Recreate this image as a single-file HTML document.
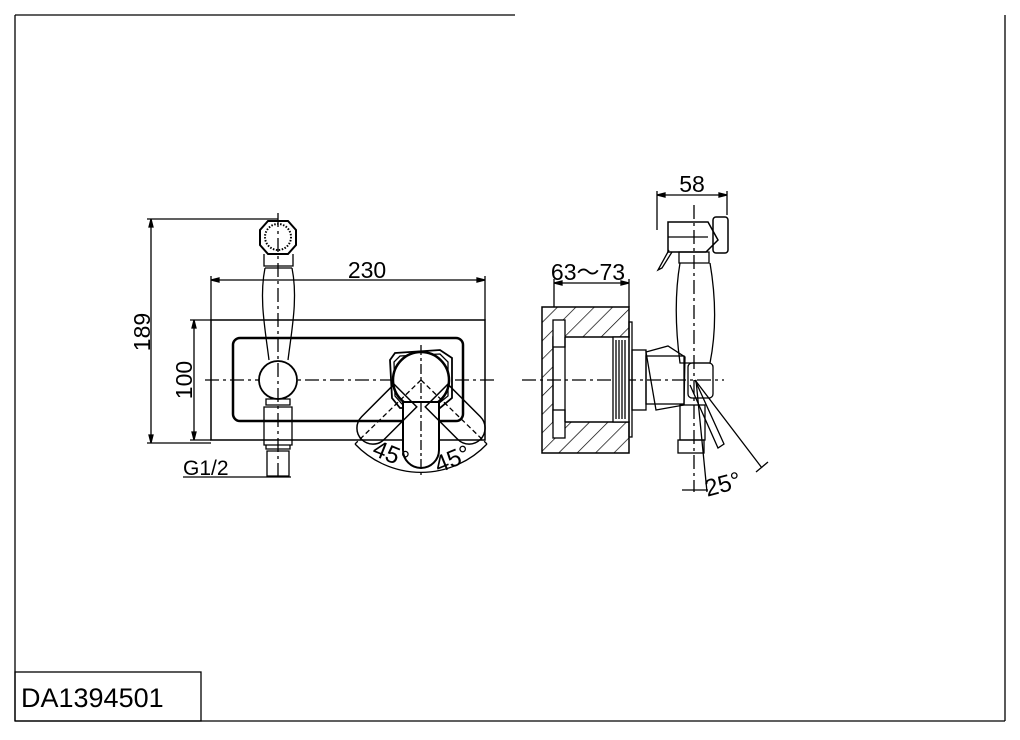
<!DOCTYPE html>
<html><head><meta charset="utf-8"><style>html,body{margin:0;padding:0;background:#fff}svg{display:block}</style></head><body>
<svg width="1020" height="740" viewBox="0 0 1020 740" xmlns="http://www.w3.org/2000/svg" font-family="Liberation Sans, sans-serif" fill="none" stroke="#000" stroke-width="1.3">
<defs>
<pattern id="h" width="13" height="13" patternUnits="userSpaceOnUse" patternTransform="rotate(45)"><line x1="0" y1="0" x2="0" y2="13" stroke="#000" stroke-width="1.4"/></pattern>
</defs>
<!-- frame -->
<line x1="15" y1="15" x2="515" y2="15"/>
<line x1="15" y1="15" x2="15" y2="721"/>
<line x1="15" y1="721" x2="1005" y2="721"/>
<line x1="1005" y1="15" x2="1005" y2="721"/>
<rect x="15" y="672" width="186" height="49"/>
<text x="21" y="707" font-size="27" fill="#000" stroke="none">DA1394501</text>

<!-- LEFT VIEW -->
<rect x="211" y="320" width="274" height="120" stroke-width="1.5"/>
<rect x="233" y="338" width="230" height="83" rx="7" stroke-width="2.5"/>
<line x1="205" y1="380" x2="497" y2="380" stroke-dasharray="14,4,3,4"/>
<!-- dims -->
<line x1="211" y1="280" x2="485" y2="280"/><line x1="211" y1="276" x2="211" y2="320"/><line x1="485" y1="276" x2="485" y2="320"/>
<path d="M211 280 l8 -2 v4z M485 280 l-8 -2 v4z" fill="#000"/>
<text x="367" y="278" font-size="23" text-anchor="middle" fill="#000" stroke="none">230</text>
<line x1="151" y1="219" x2="151" y2="443"/><line x1="147" y1="219" x2="278" y2="219"/><line x1="147" y1="443" x2="211" y2="443"/>
<path d="M151 219 l-2 8 h4z M151 443 l-2 -8 h4z" fill="#000"/>
<text transform="translate(150 332) rotate(-90)" font-size="23" text-anchor="middle" fill="#000" stroke="none">189</text>
<line x1="194" y1="320" x2="194" y2="440"/><line x1="190" y1="320" x2="211" y2="320"/><line x1="190" y1="440" x2="211" y2="440"/>
<path d="M194 320 l-2 8 h4z M194 440 l-2 -8 h4z" fill="#000"/>
<text transform="translate(192 380) rotate(-90)" font-size="23" text-anchor="middle" fill="#000" stroke="none">100</text>
<text x="183" y="475" font-size="21" fill="#000" stroke="none">G1/2</text>
<line x1="183" y1="477" x2="291" y2="477"/>
<!-- hand shower -->
<polygon points="268,221 288,221 296,230 296,245 288,254 268,254 260,245 260,230" stroke-width="2" fill="#fff"/>
<circle cx="278" cy="237" r="13" stroke-dasharray="1.5,1.5" stroke-width="2"/>
<path d="M264 254 v12 h29 v-12"/>
<path d="M265 268 h27 M265 268 c-6 30 0 60 4 92 M292 268 c6 30 0 60 -4 92" />
<circle cx="278" cy="380" r="19" stroke-width="1.8" fill="#fff"/>
<path d="M266 399 h24 v6 h-24z M264 407 h28 v38 h-28z M266 445 h24 v4 h-24z M267 451 h22 v25 h-22z"/>
<line x1="278" y1="213" x2="278" y2="478" stroke-dasharray="14,4,3,4"/>
<!-- lever -->
<path d="M395 353 L440 350 L452 358 L452 398 L440 408 L400 408 L392 398 L390 360 Z" stroke-width="1.8" fill="#fff"/>
<path d="M400 356 L440 354 L448 362 L448 396 L438 404 L402 404 L395 396 L394 362 Z"/>
<circle cx="421" cy="380" r="28" stroke-width="2.5" fill="#fff"/>
<path d="M403 402 h36 v48 a18 18 0 0 1 -36 0z" stroke-width="2" fill="#fff"/>
<g transform="rotate(45 421 380)"><path d="M405 402 h32 v46 a16 16 0 0 1 -32 0z" stroke-width="1.5"/></g>
<g transform="rotate(-45 421 380)"><path d="M405 402 h32 v46 a16 16 0 0 1 -32 0z" stroke-width="1.5"/></g>
<line x1="421" y1="345" x2="421" y2="478" stroke-dasharray="10,3,3,3"/>
<line x1="421" y1="380" x2="355" y2="444" stroke-dasharray="5,3"/>
<line x1="421" y1="380" x2="487" y2="444" stroke-dasharray="5,3"/>
<path d="M355 444 A91 91 0 0 0 487 444"/>
<text x="372" y="460" font-size="24" fill="#000" stroke="none" transform="rotate(22 385 455)">45°</text>
<text x="434" y="466" font-size="24" fill="#000" stroke="none" transform="rotate(-22 455 458)">45°</text>

<!-- RIGHT VIEW -->
<line x1="522" y1="380" x2="724" y2="380" stroke-dasharray="14,4,3,4"/>
<path d="M542 307 H629 V337 H553 V422 H629 V453 H542 Z" fill="url(#h)" stroke-width="1.5"/>
<rect x="553" y="320" width="12" height="27" fill="#fff"/>
<rect x="553" y="410" width="12" height="28" fill="#fff"/>
<line x1="565" y1="337" x2="565" y2="422"/>
<rect x="613" y="337" width="16" height="85" fill="#fff"/>
<line x1="616" y1="340" x2="616" y2="419"/><line x1="619" y1="340" x2="619" y2="419"/><line x1="622" y1="340" x2="622" y2="419"/><line x1="625" y1="340" x2="625" y2="419"/>
<rect x="629" y="322" width="3" height="115"/>
<line x1="554" y1="283" x2="629" y2="283"/><line x1="554" y1="279" x2="554" y2="307"/><line x1="629" y1="279" x2="629" y2="307"/>
<path d="M554 283 l8 -2 v4z M629 283 l-8 -2 v4z" fill="#000"/>
<text x="588" y="280" font-size="23" text-anchor="middle" fill="#000" stroke="none">63～73</text>
<!-- valve -->
<rect x="632" y="350" width="14" height="60"/>
<rect x="646" y="356" width="38" height="48"/>
<path d="M646 352 L668 346 L685 357 L684 405 L656 410 Z"/>
<!-- hand shower side -->
<line x1="657" y1="195" x2="727" y2="195"/><line x1="657" y1="191" x2="657" y2="230"/><line x1="727" y1="191" x2="727" y2="215"/>
<path d="M657 195 l8 -2 v4z M727 195 l-8 -2 v4z" fill="#000"/>
<text x="692" y="192" font-size="23" text-anchor="middle" fill="#000" stroke="none">58</text>
<path d="M668 222 H708 L718 240 L706 252 H668 Z" stroke-width="1.5"/>
<line x1="668" y1="237" x2="708" y2="237"/>
<rect x="713" y="217" width="15" height="36" rx="3" stroke-width="1.5"/>
<path d="M669 250 L658 270 L662 268 L672 252"/>
<path d="M679 252 h30 v11 h-30z"/>
<path d="M680 263 c-6 35 -4 70 0 100 h30 c6 -30 6 -65 0 -100"/>
<rect x="688" y="363" width="25" height="35" rx="4"/>
<rect x="680" y="405" width="25" height="35"/>
<rect x="678" y="440" width="26" height="13"/>
<line x1="694" y1="205" x2="694" y2="492" stroke-dasharray="14,4,3,4"/>
<path d="M695 380 L762 468 M756 472 L768 462" />
<path d="M696 380 L707 492"/>
<path d="M695 380 L724 444 L718 448 L690 385"/>
<line x1="682" y1="490" x2="708" y2="490"/>
<text x="703" y="492" font-size="24" fill="#000" stroke="none" transform="rotate(-15 723 478)">25°</text>
</svg>
</body></html>
